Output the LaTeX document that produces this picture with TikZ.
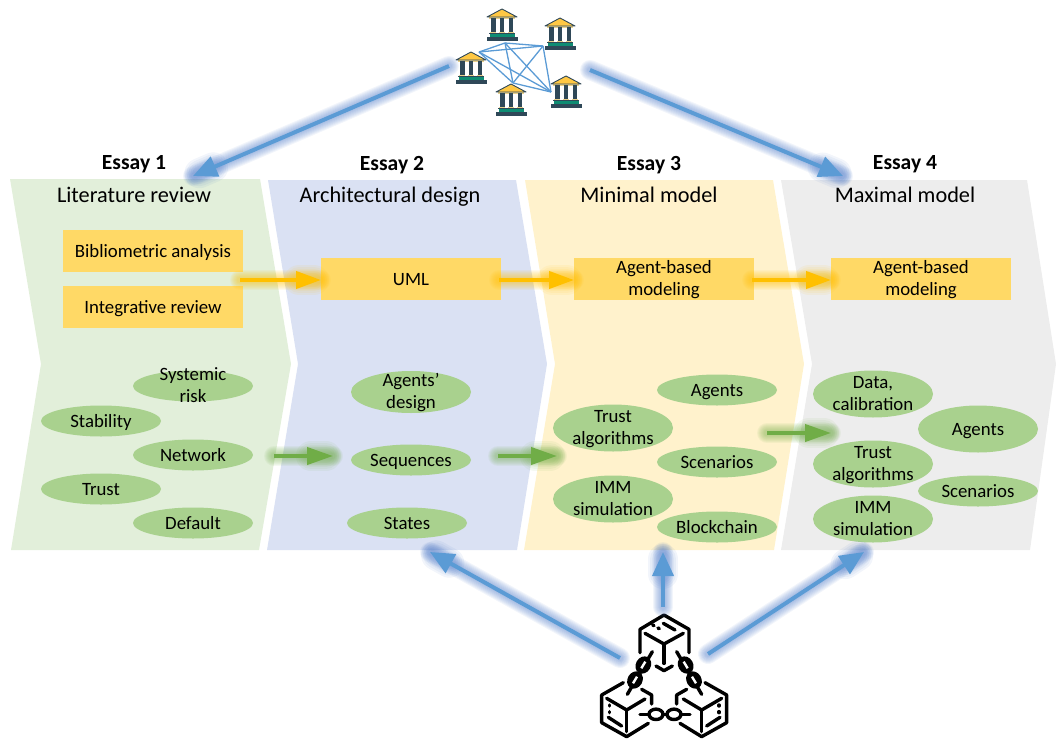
\documentclass[tikz,border=0pt]{standalone}
\usepackage{fontspec}
\setmainfont{Carlito}
\usetikzlibrary{arrows.meta,shapes.geometric,calc}
\definecolor{panelgreen}{HTML}{E2EFDA}
\definecolor{panelblue}{HTML}{DAE1F3}
\definecolor{panelyellow}{HTML}{FFF2CC}
\definecolor{panelgrey}{HTML}{EDEDED}
\definecolor{boxcolor}{HTML}{FFD966}
\definecolor{ovalcolor}{HTML}{A9D18E}
\definecolor{arrowblue}{HTML}{5B9BD5}
\definecolor{glowblue}{HTML}{4472C4}
\definecolor{arrowyellow}{HTML}{FFC000}
\definecolor{arrowgreen}{HTML}{70AD47}
\definecolor{bankdark}{HTML}{2F4858}
\definecolor{bankroof}{HTML}{FFC844}
\definecolor{banktan}{HTML}{E8D08A}
\definecolor{bankteal}{HTML}{0E8C73}
\newcommand{\twolines}[2]{\smash{\begin{tabular}[c]{@{}c@{}}#1\\[1pt]#2\end{tabular}}}
\newcommand{\glowline}[3]{
\foreach \w in {6,8,10,12,14,16,18,20} {
\draw[#1,opacity=0.07,line width=\w pt,line cap=round] (#2) -- (#3);
}
\foreach \w in {14,18,22,26,30} {
\draw[#1,opacity=0.07,line width=\w pt,line cap=round] ($(#3)!22pt!(#2)$) -- ($(#3)!7pt!(#2)$);
}
}
\tikzset{
essay/.style={font=\fontsize{21.6}{24}\selectfont\bfseries,inner sep=0pt,text height=13pt,text depth=0pt},
paneltitle/.style={font=\fontsize{22.3}{24}\selectfont,inner sep=0pt,text height=15pt,text depth=0pt},
methodbox/.style={fill=boxcolor,minimum width=180pt,minimum height=42pt,inner sep=0pt,font=\fontsize{18.8}{21}\selectfont,text height=12pt,text depth=0pt},
topic/.style={ellipse,fill=ovalcolor,minimum width=120pt,inner sep=0pt,font=\fontsize{18.8}{21}\selectfont,text height=12pt,text depth=0pt},
topicflat/.style={topic,minimum height=31pt},
topictall/.style={topic,minimum height=47pt},
topicmid/.style={topic,minimum height=42pt},
bluearrow/.style={arrowblue,line width=4pt,-{Triangle[length=24pt,width=21pt]}},
yellowarrow/.style={arrowyellow,line width=4pt,-{Triangle[length=25pt,width=17pt]}},
greenarrow/.style={arrowgreen,line width=4pt,-{Triangle[length=26pt,width=17pt]}},
iconline/.style={line width=3.4pt,line cap=round,line join=round},
bank/.pic={
\fill[bankdark] (-15.5,28.5) rectangle (15.5,32);
\fill[bankteal] (-12.5,25.5) rectangle (12.5,28.5);
\fill[bankdark] (-13,23.8) rectangle (13,25.5);
\fill[banktan] (-13,8.5) rectangle (13,10);
\foreach \c in {-8.7,0,8.7} {
\fill[bankdark] (\c-2.2,9.5) rectangle (\c+2.2,22.7);
\fill[banktan] (\c-2.9,22.7) rectangle (\c+2.9,24);
}
\fill[bankroof,draw=bankdark,line width=0.9pt,line join=round] (0,0) -- (15,8) -- (-15,8) -- cycle;
}
}
\begin{document}
\begin{tikzpicture}[x=1pt,y=-1pt]
\useasboundingbox (0,0) rectangle (1056,738);
%panels
\fill[panelgreen] (10,179) -- (260,179) -- (291,364) -- (259,550) -- (11,550) -- (41,364) -- cycle;
\fill[panelblue] (268,180) -- (516,180) -- (547,364) -- (517,550) -- (267,550) -- (298,364) -- cycle;
\fill[panelyellow] (525,180) -- (773,180) -- (804,364) -- (774,550) -- (524,550) -- (555,364) -- cycle;
\fill[panelgrey] (781,180) -- (1027,180) -- (1056,364) -- (1030,550) -- (781,550) -- (812,364) -- cycle;
%headings
\node[essay] (essay1) at (134,163) {Essay 1};
\node[essay] (essay2) at (392,164) {Essay 2};
\node[essay] (essay3) at (649,164) {Essay 3};
\node[essay] (essay4) at (905,163) {Essay 4};
\node[paneltitle] (title1) at (134,195) {Literature review};
\node[paneltitle] (title2) at (390,195) {Architectural design};
\node[paneltitle] (title3) at (649,195) {Minimal model};
\node[paneltitle] (title4) at (905,195) {Maximal model};
%methods
\node[methodbox] (biblio) at (153,251) {Bibliometric analysis};
\node[methodbox] (integr) at (153,307) {Integrative review};
\node[methodbox] (uml) at (411,279) {UML};
\node[methodbox] (abm1) at (664,279) {\twolines{Agent-based}{modeling}};
\node[methodbox] (abm2) at (921,279) {\twolines{Agent-based}{modeling}};
%essay 1
\node[topicflat] (systemic) at (193,386) {\twolines{Systemic}{risk}};
\node[topicflat] (stability) at (101,421) {Stability};
\node[topicflat] (network) at (193,455) {Network};
\node[topicflat] (trust) at (101,489) {Trust};
\node[topicflat] (default) at (193,523) {Default};
%essay 2
\node[topicmid] (design) at (411,392) {\twolines{Agents’}{design}};
\node[topicflat] (sequences) at (411,460) {Sequences};
\node[topicflat] (states) at (407,523) {States};
%essay 3
\node[topicflat] (agents3) at (717,390) {Agents};
\node[topictall] (trust3) at (613,428) {\twolines{Trust}{algorithms}};
\node[topicflat] (scen3) at (717,462) {Scenarios};
\node[topictall] (imm3) at (613,499) {\twolines{IMM}{simulation}};
\node[topicflat] (chain3) at (717,527) {Blockchain};
%essay 4
\node[topictall] (data4) at (873,394) {\twolines{Data,}{calibration}};
\node[topictall] (agents4) at (978,429) {Agents};
\node[topictall] (trust4) at (873,464) {\twolines{Trust}{algorithms}};
\node[topicflat] (scen4) at (978,491) {Scenarios};
\node[topictall] (imm4) at (873,519) {\twolines{IMM}{simulation}};
%banks
\pic at (502,9) {bank};
\pic at (560,18) {bank};
\pic at (471,52) {bank};
\pic at (511,84) {bank};
\pic at (566,76) {bank};
\coordinate (n1) at (479,52);
\coordinate (n2) at (505,43);
\coordinate (n3) at (543,46);
\coordinate (n4) at (513,83);
\coordinate (n5) at (551,92);
\foreach \a/\b in {1/2,1/3,1/4,1/5,2/3,2/4,2/5,3/4,3/5,4/5} {
\draw[arrowblue,line width=1.3pt] (n\a) -- (n\b);
}
%blockchain
\begin{scope}[shift={(580,600)},x=0.3333pt,y=-0.3333pt]
\draw[iconline] (180,158) -- (180,88) -- (252,45) -- (327,88) -- (327,158);
\draw[iconline] (195,100) -- (252,132) -- (310,100);
\draw[iconline] (252,132) -- (252,190);
\draw[iconline] (228,198) -- (252,212) -- (277,198);
\draw[iconline] (250,70) -- (285,90);
\draw[iconline] (218,75) -- (222,77) (234,84) -- (238,86);
\draw[iconline] (130,248) -- (65,285) -- (65,368) -- (140,410) -- (205,370);
\draw[iconline] (185,268) -- (215,285) -- (215,312);
\draw[iconline] (80,295) -- (140,330) -- (195,297);
\draw[iconline] (140,330) -- (140,395);
\draw[iconline] (88,315) -- (88,318) (88,335) -- (88,338);
\draw[iconline] (85,352) -- (125,378);
\draw[iconline] (375,248) -- (440,285) -- (440,368) -- (365,410) -- (300,370);
\draw[iconline] (320,268) -- (290,285) -- (290,312);
\draw[iconline] (425,295) -- (365,330) -- (310,297);
\draw[iconline] (365,330) -- (365,395);
\draw[iconline] (417,315) -- (417,318) (417,335) -- (417,338);
\draw[iconline] (420,352) -- (380,378);
%chains
\draw[iconline] (217,155) -- (142,283);
\draw[iconline] (290,155) -- (365,283);
\fill[rotate around={60:(190,195)}] (190,195) ellipse (9pt and 7.5pt);
\fill[rotate around={60:(165,240)}] (165,240) ellipse (9pt and 7.5pt);
\fill[rotate around={-60:(317,195)}] (317,195) ellipse (9pt and 7.5pt);
\fill[rotate around={-60:(342,240)}] (342,240) ellipse (9pt and 7.5pt);
\draw[white,line width=2.4pt] (184,205) -- (196,185) (159,250) -- (171,230);
\draw[white,line width=2.4pt] (323,205) -- (311,185) (348,250) -- (336,230);
\draw[iconline] (180,343) -- (330,343);
\fill[white] (228,343) ellipse (7pt and 5.2pt);
\fill[white] (282,343) ellipse (7pt and 5.2pt);
\draw[iconline] (228,343) ellipse (7pt and 5.2pt);
\draw[iconline] (282,343) ellipse (7pt and 5.2pt);
\end{scope}
%free ends
\coordinate (banksl) at (449,66);
\coordinate (banksr) at (590,70);
\coordinate (lit) at (193,176);
\coordinate (max) at (843,176);
\coordinate (chainl) at (620,658);
\coordinate (chainm) at (663,607);
\coordinate (chainr) at (708,654);
\coordinate (arch) at (430,552);
\coordinate (mini) at (663,552);
\coordinate (maxi) at (864,552);
\coordinate (y1) at (240,280);
\coordinate (y2) at (499,280);
\coordinate (y3) at (752,280);
\coordinate (g1a) at (274,456);
\coordinate (g1b) at (333,456);
\coordinate (g2a) at (498,456);
\coordinate (g2b) at (557,456);
\coordinate (g3a) at (767,433);
\coordinate (g3b) at (831,433);
\coordinate (umlin) at (321,280);
\coordinate (abm1in) at (574,280);
\coordinate (abm2in) at (831,280);
%glow
\glowline{glowblue}{banksl}{lit}
\glowline{glowblue}{banksr}{max}
\glowline{glowblue}{chainl}{arch}
\glowline{glowblue}{chainm}{mini}
\glowline{glowblue}{chainr}{maxi}
\glowline{arrowyellow}{y1}{umlin}
\glowline{arrowyellow}{y2}{abm1in}
\glowline{arrowyellow}{y3}{abm2in}
\glowline{arrowgreen}{g1a}{g1b}
\glowline{arrowgreen}{g2a}{g2b}
\glowline{arrowgreen}{g3a}{g3b}
%arrows
\draw[bluearrow] (banksl) -- (lit);
\draw[bluearrow] (banksr) -- (max);
\draw[bluearrow] (chainl) -- (arch);
\draw[bluearrow] (chainm) -- (mini);
\draw[bluearrow] (chainr) -- (maxi);
\draw[yellowarrow] (y1) -- (umlin);
\draw[yellowarrow] (y2) -- (abm1in);
\draw[yellowarrow] (y3) -- (abm2in);
\draw[greenarrow] (g1a) -- (g1b);
\draw[greenarrow] (g2a) -- (g2b);
\draw[greenarrow] (g3a) -- (g3b);
\end{tikzpicture}
\end{document}
